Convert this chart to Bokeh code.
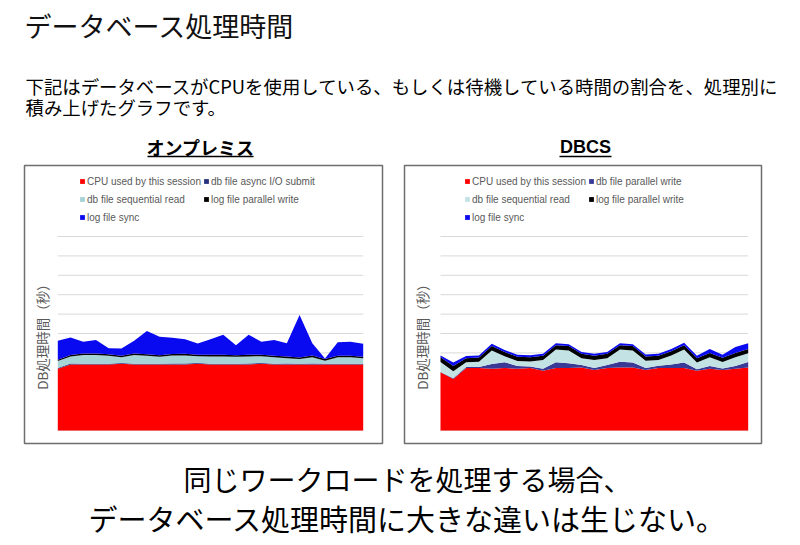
import math
from bokeh.plotting import figure
from bokeh.models import ColumnDataSource, Range1d, Label, Legend, LegendItem
from bokeh.layouts import column, row
from bokeh.embed import file_html
from bokeh.resources import INLINE

# ---------------- data ----------------
samples = list(range(25))
grid_levels = [0, 1, 2, 3, 4, 5, 6, 7, 8, 9, 10]

# オンプレミス (left)
onp_cpu = [3.18, 3.40, 3.40, 3.40, 3.40, 3.44, 3.40, 3.40, 3.40, 3.40, 3.40, 3.44, 3.40,
           3.40, 3.40, 3.40, 3.44, 3.40, 3.40, 3.40, 3.40, 3.40, 3.40, 3.40, 3.40]
onp_async = [0.04, 0.05, 0.04, 0.04, 0.04, 0.04, 0.04, 0.04, 0.04, 0.05, 0.06, 0.04, 0.04,
             0.04, 0.04, 0.06, 0.04, 0.04, 0.05, 0.04, 0.05, 0.04, 0.04, 0.04, 0.04]
onp_seq = [0.36, 0.36, 0.45, 0.45, 0.41, 0.29, 0.45, 0.41, 0.36, 0.41, 0.41, 0.35, 0.38,
           0.38, 0.36, 0.36, 0.35, 0.33, 0.28, 0.24, 0.33, 0.16, 0.33, 0.33, 0.28]
onp_lpw = [0.07, 0.08, 0.08, 0.08, 0.08, 0.08, 0.08, 0.08, 0.08, 0.08, 0.08, 0.08, 0.08,
           0.08, 0.08, 0.08, 0.08, 0.08, 0.08, 0.08, 0.08, 0.08, 0.08, 0.08, 0.08]
onp_sync = [0.98, 0.91, 0.60, 0.69, 0.31, 0.38, 0.65, 1.20, 0.95, 0.84, 0.76, 0.58, 0.81,
            1.03, 0.52, 1.03, 0.67, 0.82, 0.69, 2.20, 0.64, 0.03, 0.70, 0.72, 0.67]

# DBCS (right)
dbcs_cpu = [3.00, 2.66, 3.22, 3.22, 3.18, 3.22, 3.18, 3.22, 3.08, 3.22, 3.22, 3.25, 3.12,
            3.22, 3.25, 3.25, 3.12, 3.22, 3.22, 3.22, 3.08, 3.18, 3.12, 3.18, 3.25]
dbcs_dpw = [0.02, 0.03, 0.05, 0.05, 0.25, 0.30, 0.15, 0.08, 0.10, 0.30, 0.25, 0.12, 0.10,
            0.15, 0.30, 0.25, 0.10, 0.12, 0.18, 0.28, 0.08, 0.15, 0.08, 0.15, 0.28]
dbcs_seq = [0.51, 0.36, 0.25, 0.27, 0.70, 0.31, 0.25, 0.26, 0.45, 0.66, 0.66, 0.36, 0.41,
            0.36, 0.63, 0.63, 0.38, 0.29, 0.46, 0.68, 0.35, 0.45, 0.33, 0.45, 0.45]
dbcs_lpw = [0.24, 0.28, 0.20, 0.22, 0.22, 0.22, 0.22, 0.22, 0.22, 0.22, 0.22, 0.22, 0.22,
            0.22, 0.22, 0.22, 0.22, 0.22, 0.22, 0.22, 0.22, 0.22, 0.22, 0.22, 0.22]
dbcs_sync = [0.09, 0.17, 0.12, 0.10, 0.12, 0.10, 0.10, 0.10, 0.10, 0.10, 0.10, 0.10, 0.10,
             0.10, 0.10, 0.10, 0.10, 0.10, 0.12, 0.12, 0.12, 0.20, 0.15, 0.30, 0.30]

onp_labels = ["CPU used by this session", "db file async I/O submit",
              "db file sequential read", "log file parallel write", "log file sync"]
dbcs_labels = ["CPU used by this session", "db file parallel write",
               "db file sequential read", "log file parallel write", "log file sync"]

onp_colors = ["#FF0000", "#28307E", "#A6D3D6", "#000000", "#0A0AF0"]
dbcs_colors = ["#FF0000", "#3A3A96", "#C3E2E4", "#000000", "#0A0AF0"]

title_text = "データベース処理時間"
desc_lines = ["下記はデータベースがCPUを使用している、もしくは待機している時間の割合を、処理別に",
              "積み上げたグラフです。"]
chart_titles = ["オンプレミス", "DBCS"]
ylabel_text = "DB処理時間（秒）"
concl_lines = ["同じワークロードを処理する場合、", "データベース処理時間に大きな違いは生じない。"]

JP = "Noto Sans CJK JP"
LAT = "Liberation Sans"

W = 791


def text_fig(w, h):
    f = figure(width=w, height=h, x_range=Range1d(0, w), y_range=Range1d(h, 0),
               x_axis_type=None, y_axis_type=None, toolbar_location=None,
               output_backend="svg", min_border=0)
    f.outline_line_color = None
    f.grid.visible = False
    return f


# ---------------- header ----------------
hdr = text_fig(W, 164)
hdr.add_layout(Label(x=24, y=25, text=title_text, text_font=JP, text_font_size="27px",
                     text_color="#111111", text_baseline="middle", text_align="left"))
for i, ln in enumerate(desc_lines):
    hdr.add_layout(Label(x=25, y=85 + 21 * i, text=ln, text_font=JP, text_font_size="18.4px",
                         text_color="#000000", text_baseline="middle", text_align="left"))
title_cx = [200, 585]
title_fonts = [JP, LAT]
title_w = [106, 52]
for cx, t, fnt, tw in zip(title_cx, chart_titles, title_fonts, title_w):
    hdr.add_layout(Label(x=cx, y=146, text=t, text_font=fnt, text_font_size="18px",
                         text_font_style="bold", text_color="#000000",
                         text_baseline="middle", text_align="center"))
hdr.segment(x0=[c - w / 2 for c, w in zip(title_cx, title_w)],
            x1=[c + w / 2 for c, w in zip(title_cx, title_w)],
            y0=[156, 156], y1=[156, 156], line_color="#000000", line_width=1.6)


# ---------------- charts ----------------
def chart(width, b_left, b_right, frame_w, data_left, data_right, series, labels, colors,
          ylabel_x, legend_x):
    frame_h = 278
    ppu_x = (data_right - data_left) / (len(samples) - 1)
    x0 = -(data_left) / ppu_x
    x1 = (len(samples) - 1) + (frame_w - data_right) / ppu_x
    ppu_y = 19.4
    y0 = -(frame_h - 265) / ppu_y
    y1 = 10 + 71 / ppu_y
    p = figure(width=width, height=281, x_range=Range1d(x0, x1), y_range=Range1d(y0, y1),
               x_axis_type=None, y_axis_type=None, toolbar_location=None,
               output_backend="svg", min_border_left=b_left, min_border_right=b_right,
               min_border_top=1, min_border_bottom=2)
    p.grid.visible = False
    p.outline_line_color = "#6E6E6E"
    p.outline_line_width = 1.5
    p.background_fill_color = "#FFFFFF"
    p.segment(x0=[samples[0]] * len(grid_levels), x1=[samples[-1]] * len(grid_levels),
              y0=grid_levels, y1=grid_levels, line_color="#D9D9D9", line_width=1)
    names = ["s%d" % i for i in range(len(series))]
    data = {"x": samples}
    for n, s in zip(names, series):
        data[n] = s
    src = ColumnDataSource(data)
    rs = p.varea_stack(stackers=names, x="x", color=colors, source=src)
    items = [LegendItem(label=l, renderers=[r]) for l, r in zip(labels, rs)]
    leg = Legend(items=items, orientation="horizontal", ncols=2,
                 glyph_width=6, glyph_height=6, label_standoff=2, spacing=2,
                 label_height=16, label_width=20, padding=0, margin=0,
                 label_text_font=LAT, label_text_font_size="10px",
                 label_text_color="#595959", background_fill_alpha=0,
                 border_line_alpha=0, location=(legend_x, frame_h - 8 - 52))
    p.add_layout(leg)
    p.add_layout(Label(x=(ylabel_x - data_left) / ppu_x, y=5.0, text=ylabel_text,
                       angle=math.pi / 2, text_font=JP, text_font_size="13.5px",
                       text_color="#595959", text_align="center", text_baseline="middle"))
    return p


left = chart(393, 24, 11, 358, 33.3, 338.7,
             [onp_cpu, onp_async, onp_seq, onp_lpw, onp_sync], onp_labels, onp_colors,
             17.7, 55)
right = chart(398, 11, 30, 357, 36, 343.7,
              [dbcs_cpu, dbcs_dpw, dbcs_seq, dbcs_lpw, dbcs_sync], dbcs_labels, dbcs_colors,
              17.7, 60)

# ---------------- footer ----------------
ftr = text_fig(W, 96)
concl_sizes = ["28px", "29px"]
for i, (ln, fs) in enumerate(zip(concl_lines, concl_sizes)):
    ftr.add_layout(Label(x=407, y=33 + 39 * i, text=ln, text_font=JP, text_font_size=fs,
                         text_color="#000000", text_baseline="middle", text_align="center"))

page = column(hdr, row(left, right), ftr)
open("out.html", "w").write(file_html(page, INLINE))
